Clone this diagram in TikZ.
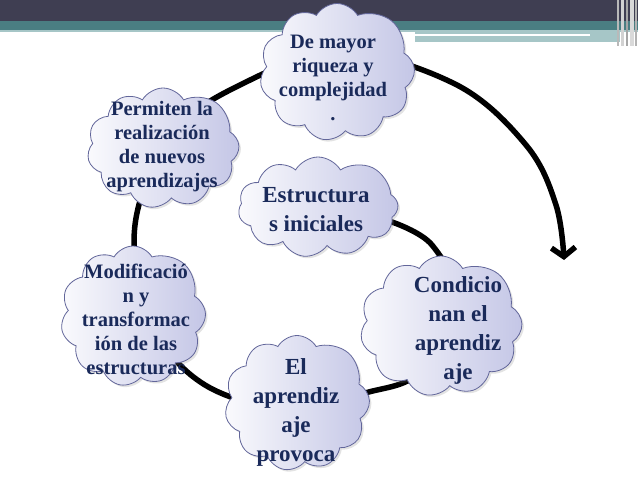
\documentclass[tikz,border=0pt]{standalone}
\usepackage{fontspec}
\setmainfont{Liberation Serif}
\usetikzlibrary{shapes.symbols,shadows,arrows.meta}
\definecolor{hdrdark}{HTML}{3F3E52}
\definecolor{hdrteal}{HTML}{4A7E82}
\definecolor{hdrlight}{HTML}{A6C6C7}
\definecolor{cloudlav}{HTML}{C4C6E6}
\definecolor{cloudedge}{HTML}{62669A}
\definecolor{navy}{HTML}{1A2A5A}
\begin{document}
\begin{tikzpicture}[x=1pt,y=-1pt,
 cloudbox/.style={cloud, cloud puffs=10.6, cloud puff arc=120, cloud ignores aspect, draw=cloudedge, line width=0.8pt, shading angle=120, left color=white!92!cloudlav, right color=cloudlav, inner sep=0pt, drop shadow={opacity=0.22, shadow xshift=2pt, shadow yshift=-2pt}},
 small/.style={text=navy, align=center, font=\fontsize{20.5}{24}\selectfont\bfseries},
 big/.style={text=navy, align=center, font=\fontsize{23}{29}\selectfont\bfseries},
 loopline/.style={line width=5.5pt, black, line cap=round, -{Straight Barb[length=9pt,width=24pt]}}]
\useasboundingbox (0,0) rectangle (638,479);
\fill[white] (0,0) rectangle (638,479);
% header
\fill[hdrdark] (0,0) rectangle (638,21);
\fill[hdrteal] (0,21) rectangle (638,30);
\fill[hdrlight] (0,30) rectangle (638,32);
\fill[hdrlight] (415,30) rectangle (620,42);
\fill[white] (415,34) rectangle (590,36);
\fill[gray!55] (617,0) rectangle (619,46);
\fill[gray!35] (621,0) rectangle (624,46);
\fill[gray!70] (626,0) rectangle (628,46);
\fill[gray!30] (630,0) rectangle (634,46);
\fill[gray!60] (635,0) rectangle (637,46);
% loop
\coordinate (a0) at (392,222);
\coordinate (a1) at (432,245);
\coordinate (a2) at (455,300);
\coordinate (a3) at (420,372);
\coordinate (a4) at (362,394);
\coordinate (a5) at (300,412);
\coordinate (a6) at (205,385);
\coordinate (a7) at (150,320);
\coordinate (a8) at (135,225);
\coordinate (a9) at (172,135);
\coordinate (a10) at (238,86);
\coordinate (a11) at (340,52);
\coordinate (a12) at (455,84);
\coordinate (a13) at (526,145);
\coordinate (a14) at (556,205);
\coordinate (a15) at (564,260);
\draw[loopline] plot[smooth, tension=0.6] coordinates {(a0) (a1) (a2) (a3) (a4) (a5) (a6) (a7) (a8) (a9) (a10) (a11) (a12) (a13) (a14) (a15)};
% clouds
\node[cloudbox, minimum width=155pt, minimum height=137pt] (c1) at (337,72) {};
\node[cloudbox, minimum width=152pt, minimum height=120pt] (c2) at (163,148) {};
\node[cloudbox, minimum width=160pt, minimum height=100pt] (c3) at (318,207) {};
\node[cloudbox, minimum width=145pt, minimum height=140pt] (c4) at (133,316) {};
\node[cloudbox, minimum width=162pt, minimum height=140pt] (c5) at (441,326) {};
\node[cloudbox, minimum width=145pt, minimum height=135pt] (c6) at (297,403) {};
% texts
\node[small] (t1) at (333,78) {De mayor\\riqueza y\\complejidad\\.};
\node[small] (t2) at (162,147) {Permiten la\\realización\\de nuevos\\aprendizajes};
\node[big] (t3) at (316,210) {Estructura\\s iniciales};
\node[small] (t4) at (136,319) {Modificació\\n y\\transformac\\ión de las\\estructuras};
\node[big] (t5) at (458,330) {Condicio\\nan el\\aprendiz\\aje};
\node[big] (t6) at (296,412) {El\\aprendiz\\aje\\provoca};
\end{tikzpicture}
\end{document}
